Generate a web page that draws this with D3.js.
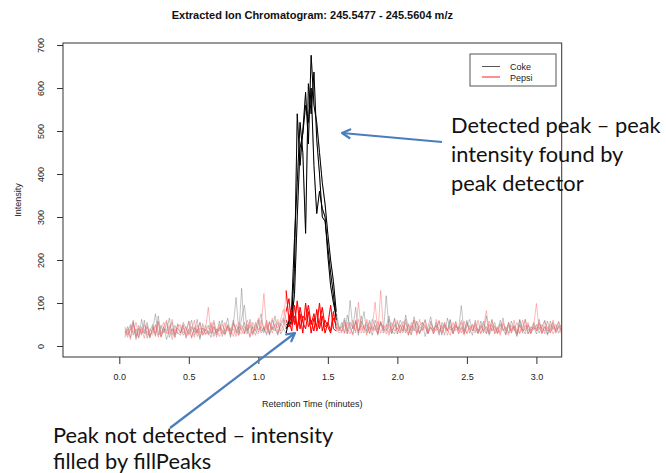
<!DOCTYPE html>
<html>
<head>
<meta charset="utf-8">
<script src="https://cdn.jsdelivr.net/npm/d3@7"></script>
<style>
  body { margin: 0; background: #fff; }
  svg { display: block; }
  .axis text { font-family: "Liberation Sans", Arial, sans-serif; font-size: 9px; fill: #222; }
  .axis line { stroke: #333; }
</style>
</head>
<body>
<div id="chart"></div>
<script>
// Data
////////////////////////////////////////////////////////////////////
const retentionTimes = [
  0.04,0.06,0.08,0.10,0.12,0.14,0.16,0.18,0.20,0.22,
  0.24,0.26,0.28,0.30,0.32,0.34,0.36,0.38,0.40,0.42,
  0.44,0.46,0.48,0.50,0.52,0.54,0.56,0.58,0.60,0.62,
  0.64,0.66,0.68,0.70,0.72,0.74,0.76,0.78,0.80,0.82,
  0.84,0.86,0.88,0.90,0.92,0.94,0.96,0.98,1.00,1.02,
  1.04,1.06,1.08,1.10,1.12,1.14,1.16,1.18,1.20,1.22,
  1.24,1.26,1.28,1.30,1.32,1.34,1.36,1.38,1.40,1.42,
  1.44,1.46,1.48,1.50,1.52,1.54,1.56,1.58,1.60,1.62,
  1.64,1.66,1.68,1.70,1.72,1.74,1.76,1.78,1.80,1.82,
  1.84,1.86,1.88,1.90,1.92,1.94,1.96,1.98,2.00,2.02,
  2.04,2.06,2.08,2.10,2.12,2.14,2.16,2.18,2.20,2.22,
  2.24,2.26,2.28,2.30,2.32,2.34,2.36,2.38,2.40,2.42,
  2.44,2.46,2.48,2.50,2.52,2.54,2.56,2.58,2.60,2.62,
  2.64,2.66,2.68,2.70,2.72,2.74,2.76,2.78,2.80,2.82,
  2.84,2.86,2.88,2.90,2.92,2.94,2.96,2.98,3.00,3.02,
  3.04,3.06,3.08,3.10,3.12,3.14,3.16,3.18
];

// Coke replicates (intensity per scan)
const cokeA = [
  30,45,20,55,15,40,25,60,18,35, 50,22,70,28,45,15,38,55,20,42,
  30,48,18,36,60,25,40,15,52,28, 35,20,45,30,58,22,40,65,25,48,
  113,30,134,28,50,22,45,35,60,30, 42,25,55,38,70,30,48,60,
  40,55,70,180,540,420,500,590,470,676,560,520,450,380,330,260,200,150,80,45,
  35,60,28,106,40,55,25,70,38,50, 30,62,45,25,58,35,117,40,30,65,
  28,50,35,72,40,25,60,30,48,55, 22,45,68,30,40,58,25,50,35,62,
  28,45,38,94,30,55,40,25,60,35, 48,30,70,25,42,55,30,38,65,28,
  50,35,45,22,60,30,48,40,28,55, 35,62,30,45,25,58,38,50,30,42
];
const cokeB = [
  20,35,50,25,40,18,62,30,45,22, 38,75,25,48,30,55,20,40,28,50,
  45,25,35,58,20,42,30,55,25,38, 28,50,22,40,35,60,28,45,20,52,
  40,25,65,95,35,48,28,55,38,45, 30,60,25,45,35,55,28,40,
  30,60,90,250,380,520,450,262,610,540,637,480,400,300,290,230,170,120,60,35,
  55,30,72,45,28,60,35,48,80,30, 45,25,60,38,52,30,45,70,35,28,
  55,40,30,62,25,48,35,58,30,45, 60,28,42,35,55,30,48,25,65,38,
  40,55,28,45,35,60,30,50,42,28, 58,35,45,30,62,28,40,52,35,45,
  30,58,40,25,50,35,62,28,45,38, 50,30,45,60,28,40,55,32,48,35
];
const cokeC = [
  40,25,38,60,22,48,30,35,55,20, 45,30,58,22,40,35,65,25,48,30,
  25,55,40,28,45,32,62,20,42,35, 48,30,55,25,42,38,28,50,35,60,
  30,45,38,55,28,62,40,25,50,75, 35,48,28,60,40,25,52,65,
  50,45,60,120,300,460,494,560,520,600,420,308,360,320,300,210,140,100,70,40,
  45,65,35,55,40,90,30,58,42,35, 60,38,48,30,55,42,35,62,28,50,
  38,60,45,30,52,35,68,40,28,55, 45,30,58,38,48,25,55,42,35,60,
  30,48,40,55,28,45,62,35,50,30, 42,58,28,50,35,45,30,60,40,25,
  55,38,48,30,62,40,28,50,35,45, 28,52,40,35,58,30,45,38,55,40
];

// Pepsi replicates (intensity per scan)
const pepsiA = [
  25,40,15,50,30,20,45,28,35,18, 42,25,55,20,38,30,48,15,40,28,
  35,50,22,40,18,45,30,55,25,38, 90,28,45,20,50,35,25,48,30,40,
  22,55,35,28,60,40,25,50,32,45, 122,38,55,30,48,62,35,50,
  129,60,35,95,40,75,30,100,45,60,35,85,40,70,30,55,35,80,40,30,
  35,50,28,45,60,30,102,38,48,25, 55,35,42,28,129,40,50,30,45,62,
  28,48,35,55,30,42,60,25,45,38, 50,30,45,28,62,35,40,55,25,48,
  35,58,30,42,25,50,38,45,30,60, 28,45,82,35,50,30,42,25,55,38,
  45,30,60,28,48,35,40,55,30,45, 99,38,50,28,45,35,60,30,42,50
];
const pepsiB = [
  35,20,45,30,55,25,40,18,48,30, 25,50,35,22,45,60,28,40,20,52,
  30,42,25,58,35,20,48,30,42,25, 40,55,28,38,22,50,35,45,28,55,
  35,25,48,30,42,20,55,35,28,60, 40,55,30,65,45,28,52,40,
  80,110,50,70,35,90,55,40,80,30,65,45,100,35,60,45,30,65,50,35,
  45,30,55,40,25,58,35,48,30,62, 38,45,102,30,55,40,28,50,35,45,
  60,30,48,38,25,55,40,30,62,35, 45,28,52,40,35,60,30,48,38,25,
  55,35,45,30,58,28,42,50,35,40, 30,52,40,28,60,35,45,30,50,38,
  25,48,35,55,30,45,62,28,40,52, 35,45,28,58,40,30,50,35,45,28
];
const pepsiC = [
  45,28,35,55,20,42,30,50,25,40, 30,48,20,40,55,28,35,62,25,45,
  50,30,45,25,38,60,22,42,30,48, 25,40,60,30,45,28,55,35,42,22,
  50,35,28,45,38,55,30,42,65,35, 45,30,58,38,50,42,60,85,
  60,45,85,50,105,40,70,60,95,50,75,35,55,90,45,50,95,40,35,45,
  30,55,40,28,48,35,62,30,45,55, 28,45,35,58,30,48,40,25,55,35,
  42,30,58,35,48,28,45,55,30,40, 62,35,45,28,50,40,30,55,38,45,
  28,50,35,60,40,30,48,35,55,30, 45,38,30,58,35,48,28,50,40,35,
  55,30,45,38,28,60,35,48,30,42, 40,55,30,45,35,50,28,42,58,35
];

// peak window (minutes) drawn in full colour
const peakStart = 1.20;
const peakEnd = 1.56;

const xTicks = [0, 0.5, 1, 1.5, 2, 2.5, 3];
const yTicks = [0, 100, 200, 300, 400, 500, 600, 700];

const legendLabels = ["Coke", "Pepsi"];

function draw() {
  // Dimensions
  ////////////////////////////////////////////////////////////////////
  let dimensions = {
    width: 666,
    height: 473,
    margin: { top: 43, left: 63, right: 104.3, bottom: 116 },
  };
  dimensions.ctrWidth = dimensions.width - dimensions.margin.left - dimensions.margin.right;
  dimensions.ctrHeight = dimensions.height - dimensions.margin.top - dimensions.margin.bottom;

  const svg = d3
    .select("#chart")
    .append("svg")
    .attr("width", dimensions.width)
    .attr("height", dimensions.height);

  const ctr = svg
    .append("g")
    .attr("transform", `translate(${dimensions.margin.left}, ${dimensions.margin.top})`);

  // Scales
  ////////////////////////////////////////////////////////////////////
  const xScale = d3.scaleLinear().domain([-0.405, 3.182]).range([0, dimensions.ctrWidth]);
  const yScale = d3.scaleLinear().domain([-25.6, 704.7]).range([dimensions.ctrHeight, 0]);

  // clip traces to the plot box
  svg.append("defs").append("clipPath").attr("id", "plot-clip")
    .append("rect").attr("width", dimensions.ctrWidth).attr("height", dimensions.ctrHeight);

  const traces = ctr.append("g").attr("clip-path", "url(#plot-clip)");

  const fullLine = d3.line()
    .x((d, i) => xScale(retentionTimes[i]))
    .y((d) => yScale(d));

  const peakLine = d3.line()
    .defined((d, i) => retentionTimes[i] >= peakStart && retentionTimes[i] <= peakEnd)
    .x((d, i) => xScale(retentionTimes[i]))
    .y((d) => yScale(d));

  const coke = [cokeA, cokeB, cokeC];
  const pepsi = [pepsiA, pepsiB, pepsiC];

  // faded full traces
  traces.selectAll(".coke-bg").data(coke).join("path")
    .attr("fill", "none").attr("stroke", "rgba(100,100,100,0.38)").attr("stroke-width", 1)
    .attr("d", fullLine);
  traces.selectAll(".pepsi-bg").data(pepsi).join("path")
    .attr("fill", "none").attr("stroke", "rgba(255,100,100,0.45)").attr("stroke-width", 1)
    .attr("d", fullLine);

  // peak window in solid colour
  traces.selectAll(".coke-pk").data(coke).join("path")
    .attr("fill", "none").attr("stroke", "#000").attr("stroke-width", 1)
    .attr("d", peakLine);
  traces.selectAll(".pepsi-pk").data(pepsi).join("path")
    .attr("fill", "none").attr("stroke", "#ff0000").attr("stroke-width", 1)
    .attr("d", peakLine);

  // Box
  ctr.append("rect")
    .attr("width", dimensions.ctrWidth)
    .attr("height", dimensions.ctrHeight)
    .attr("fill", "none")
    .attr("stroke", "#333");

  // Axis
  ////////////////////////////////////////////////////////////////////
  const xAxis = d3.axisBottom(xScale).tickValues(xTicks).tickSize(7).tickFormat(d3.format(".1f"));
  const xAxisGroup = ctr.append("g")
    .classed("axis", true)
    .attr("transform", `translate(0,${dimensions.ctrHeight})`)
    .call(xAxis);
  xAxisGroup.select(".domain").remove();
  xAxisGroup.selectAll("text").attr("y", 17);

  xAxisGroup.append("text")
    .attr("x", dimensions.ctrWidth / 2)
    .attr("y", 50)
    .attr("text-anchor", "middle")
    .text("Retention Time (minutes)");

  const yAxis = d3.axisLeft(yScale).tickValues(yTicks).tickSize(6);
  const yAxisGroup = ctr.append("g").classed("axis", true).call(yAxis);
  yAxisGroup.select(".domain").remove();
  yAxisGroup.selectAll(".tick text")
    .attr("transform", "rotate(-90)")
    .attr("x", 0)
    .attr("y", -19)
    .attr("dy", 0)
    .attr("text-anchor", "middle");

  yAxisGroup.append("text")
    .attr("transform", `translate(${-42},${dimensions.ctrHeight / 2}) rotate(-90)`)
    .attr("text-anchor", "middle")
    .text("Intensity");

  // Title
  svg.append("text")
    .attr("x", dimensions.margin.left + dimensions.ctrWidth / 2)
    .attr("y", 19)
    .attr("text-anchor", "middle")
    .style("font-family", "'Liberation Sans', Arial, sans-serif")
    .style("font-size", "11px")
    .style("font-weight", "bold")
    .attr("fill", "#111")
    .text("Extracted Ion Chromatogram: 245.5477 - 245.5604 m/z");

  // Legend
  ////////////////////////////////////////////////////////////////////
  const legend = svg.append("g").attr("transform", "translate(470,54)");
  legend.append("rect")
    .attr("width", 86).attr("height", 32)
    .attr("fill", "#fff").attr("stroke", "#555");
  const legendColors = ["#555", "#ff2020"];
  legend.selectAll("line").data(legendLabels).join("line")
    .attr("x1", 12).attr("x2", 30)
    .attr("y1", (d, i) => 12.5 + i * 10.5).attr("y2", (d, i) => 12.5 + i * 10.5)
    .attr("stroke", (d, i) => legendColors[i]);
  legend.selectAll("text").data(legendLabels).join("text")
    .attr("x", 40)
    .attr("y", (d, i) => 16 + i * 10.5)
    .style("font-family", "'Liberation Sans', Arial, sans-serif")
    .style("font-size", "9px")
    .attr("fill", "#222")
    .text((d) => d);

  // Annotations
  ////////////////////////////////////////////////////////////////////
  const arrowColor = "#4a7ebb";
  function arrow(x1, y1, x2, y2) {
    const g = svg.append("g");
    g.append("line")
      .attr("x1", x1).attr("y1", y1).attr("x2", x2).attr("y2", y2)
      .attr("stroke", arrowColor).attr("stroke-width", 2.2);
    const a = Math.atan2(y1 - y2, x1 - x2);
    const len = 9, spread = 0.5;
    g.append("path")
      .attr("d", `M${x2 + len * Math.cos(a + spread)},${y2 + len * Math.sin(a + spread)}L${x2},${y2}L${x2 + len * Math.cos(a - spread)},${y2 + len * Math.sin(a - spread)}`)
      .attr("fill", "none").attr("stroke", arrowColor).attr("stroke-width", 2.2)
      .attr("stroke-linecap", "round").attr("stroke-linejoin", "round");
  }
  arrow(442, 142, 342, 133);
  arrow(170, 428, 295, 333);

  const noteFont = "Lato, 'Open Sans', sans-serif";
  const note1 = ["Detected peak \u2013 peak", "intensity found by", "peak detector"];
  svg.append("g").selectAll("text").data(note1).join("text")
    .attr("x", 451).attr("y", (d, i) => 133 + i * 29)
    .style("font-family", noteFont).style("font-size", "21.8px")
    .attr("fill", "#111")
    .text((d) => d);

  const note2 = ["Peak not detected \u2013 intensity", "filled by fillPeaks"];
  svg.append("g").selectAll("text").data(note2).join("text")
    .attr("x", 53).attr("y", (d, i) => 443 + i * 26)
    .style("font-family", noteFont).style("font-size", "21.8px")
    .attr("fill", "#111")
    .text((d) => d);
}

draw();
</script>
</body>
</html>
